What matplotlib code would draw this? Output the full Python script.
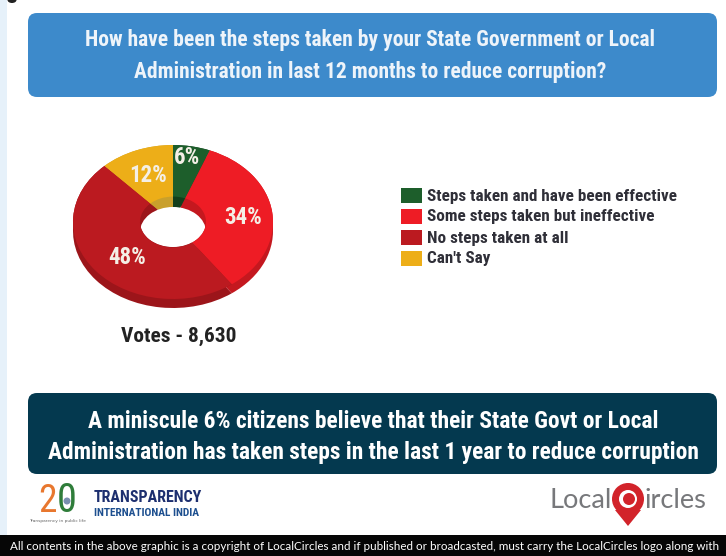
import matplotlib
matplotlib.use("Agg")
import matplotlib.pyplot as plt
from matplotlib.patches import Rectangle, FancyBboxPatch, Ellipse, Circle, Polygon

categories = ["Steps taken and have been effective", "Some steps taken but ineffective",
              "No steps taken at all", "Can't Say"]
values = [6, 34, 48, 12]
pct_labels = ["6%", "34%", "48%", "12%"]
colors = ["#1d5e2b", "#ee1c25", "#bb1a20", "#edae18"]
side_colors = ["#123f1c", "#c4181f", "#9c151a", "#c9a02c"]

title = "How have been the steps taken by your State Government or Local\nAdministration in last 12 months to reduce corruption?"
votes = "Votes - 8,630"
finding = "A miniscule 6% citizens believe that their State Govt or Local\nAdministration has taken steps in the last 1 year to reduce corruption"
footer = "All contents in the above graphic is a copyright of LocalCircles and if published or broadcasted, must carry the LocalCircles logo along with"

W, H = 726, 556
NARROW = ["Roboto Condensed", "Barlow Semi Condensed", "Asap Condensed", "Roboto"]

fig = plt.figure(figsize=(W / 100, H / 100), dpi=100, facecolor="white")
bg = fig.add_axes([0, 0, 1, 1])
bg.set_xlim(0, W)
bg.set_ylim(H, 0)
bg.axis("off")

# page edges and boxes, all in pixels
bg.add_patch(Rectangle((0, 0), 7, 535, color="#e6f1fa", lw=0))
bg.add_patch(Ellipse((12, 0), 9, 6, color="#222222", lw=0))
bg.add_patch(Rectangle((0, 535), W, 21, color="#060606", lw=0))
bg.add_patch(FancyBboxPatch((28, 13), 689, 84, boxstyle="round,pad=0,rounding_size=9", lw=0, fc="#3d8acb"))
bg.add_patch(FancyBboxPatch((28, 393), 689, 81, boxstyle="round,pad=0,rounding_size=9", lw=0, fc="#04394f"))

bg.text(370, 56, title, color="#eef4fa", family=NARROW, weight="bold", fontsize=15.5,
        ha="center", va="center", linespacing=1.55)
bg.text(373, 437, finding, color="white", family=NARROW, weight="bold", fontsize=16.9,
        ha="center", va="center", linespacing=1.48)
bg.text(179, 336, votes, color="#222222", family=NARROW, weight="bold", fontsize=15.4,
        ha="center", va="center")
bg.text(10, 547, footer, color="white", family=["Lato", "DejaVu Sans"], fontsize=8.4,
        ha="left", va="center", clip_on=True)

# donut: side wall, inner wall, then top surface
rx, ry = 100, 77
cx, cy = 173, 222
depth = 9
pie_ax = fig.add_axes([(cx - rx) / W, 1 - (cy + ry + depth) / H, 2 * rx / W, (2 * ry + depth) / H])
pie_ax.set_zorder(-1)
pie_ax.patch.set_alpha(0)
kw = dict(startangle=90, counterclock=False, radius=1)
pie_ax.pie(values, colors=side_colors, center=(0, -depth / ry), wedgeprops=dict(width=0.67, lw=0), **kw)
pie_ax.pie(values, colors=side_colors, wedgeprops=dict(lw=0), **kw)
hole_top = Ellipse((0, 0), 0.66, 0.65, fc="none", lw=0)
pie_ax.add_patch(hole_top)
hole = Ellipse((0, -10 / ry), 0.66, 0.65, fc="white", lw=0)
pie_ax.add_patch(hole)
hole.set_clip_path(hole_top)
pie_ax.pie(values, colors=colors, wedgeprops=dict(width=0.67, lw=0), **kw)
pie_ax.set_aspect("auto")
pie_ax.set_xlim(-1, 1)
pie_ax.set_ylim(-1 - depth / ry, 1)
pie_ax.set_frame_on(False)

label_px = [(187, 158), (243, 217), (127, 257), (148, 175)]
for lab, (x, y) in zip(pct_labels, label_px):
    bg.text(x, y, lab, color="#f4efe6", family=NARROW, weight="bold", fontsize=16.5, ha="center", va="center")

# legend
swatch_y = [188, 209, 230, 251]
for cat, col, y in zip(categories, colors, swatch_y):
    bg.add_patch(Rectangle((401, y), 21, 14.5, fc=col, lw=0))
    bg.text(427, y + 8, cat, color="#2f2f38", family=NARROW, weight="bold", fontsize=12.35, ha="left", va="center")

# Transparency International logo
bg.text(48, 501, "2", color="#e8772e", fontsize=27, ha="center", va="center", family=NARROW)
bg.text(67, 501, "0", color="#2f7d3a", fontsize=29, ha="center", va="center", family=NARROW)
bg.add_patch(Circle((67, 501), 3.5, fc="#7a8fb0", lw=0))
bg.text(58, 521, "Transparency in public life", color="#666666", fontsize=3.2, ha="center", va="center")
bg.text(94, 498, "TRANSPARENCY", color="#1d2f6f", family=NARROW, weight="bold", fontsize=11.5, ha="left", va="center")
bg.text(94, 513, "INTERNATIONAL INDIA", color="#1d4f8f", family=NARROW, weight="bold", fontsize=8.2, ha="left", va="center")

# LocalCircles logo
bg.text(549, 500, "Local", color="#77787b", family=["Lato", "DejaVu Sans"], fontsize=19.6, ha="left", va="center")
bg.text(645, 500, "ircles", color="#77787b", family=["Lato", "DejaVu Sans"], fontsize=19.6, ha="left", va="center")
bg.add_patch(Polygon([[615, 510], [641, 510], [628, 526]], fc="#d2232a", lw=0))
bg.add_patch(Circle((628, 499), 16, fc="#d2232a", lw=0))
bg.add_patch(Circle((628, 499), 9, fc="white", lw=0))
bg.add_patch(Circle((629, 499), 6, fc="#d2232a", lw=0))

fig.savefig("out.png", dpi=100, facecolor="white")
